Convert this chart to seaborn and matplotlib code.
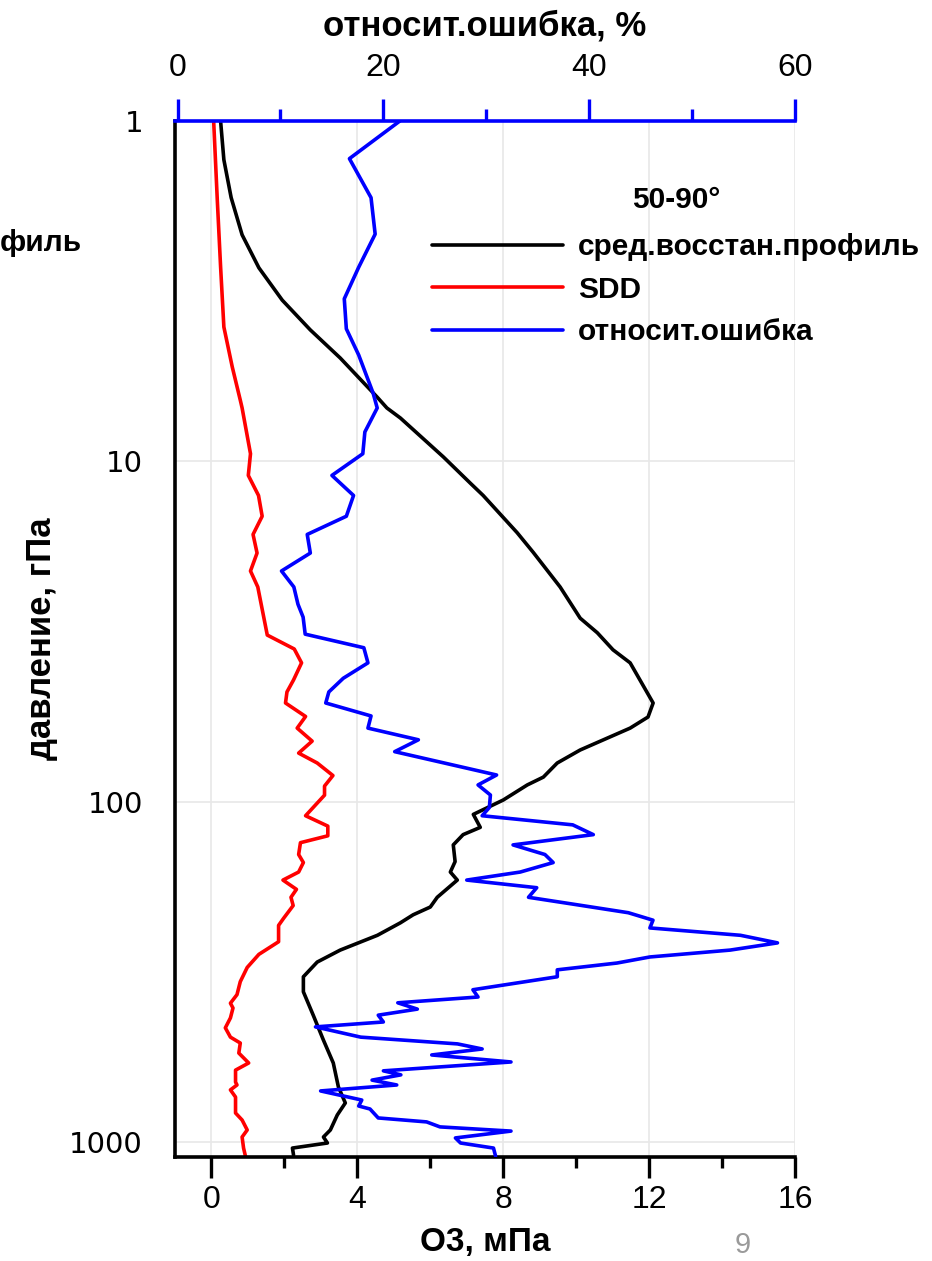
import matplotlib
matplotlib.use("Agg")
import matplotlib.pyplot as plt
import matplotlib.ticker as mticker
from matplotlib import font_manager
import seaborn as sns

# mean retrieved profile, mPa vs hPa
p_mean = [1.0, 1.30, 1.68, 2.16, 2.70, 3.36, 4.11, 4.97, 6.47, 6.97, 7.46, 9.71, 11.6, 12.6,
          16.2, 18.5, 23.4, 28.9, 31.9, 35.8, 39.1, 51.3, 56.4, 60.8, 70.5, 77.0, 84.7, 89.3,
          98.9, 109, 119, 125, 134, 150, 161, 170, 191, 204, 215, 227, 247, 273, 296, 327,
          362, 424, 502, 586, 689, 768, 833, 922, 967, 1007, 1042, 1092]
o3_mean = [0.25, 0.34, 0.54, 0.84, 1.30, 1.94, 2.71, 3.53, 4.54, 4.81, 5.18, 6.36, 7.10, 7.45,
           8.38, 8.82, 9.56, 10.11, 10.58, 11.01, 11.48, 12.11, 11.97, 11.48, 10.11, 9.48, 9.10, 8.66,
           8.00, 7.18, 7.37, 6.90, 6.63, 6.68, 6.55, 6.74, 6.19, 6.00, 5.53, 5.18, 4.55, 3.53, 2.90, 2.52,
           2.52, 2.79, 3.07, 3.34, 3.48, 3.67, 3.45, 3.26, 3.07, 3.18, 2.22, 2.25]

# SDD, mPa
p_sdd = [1.0, 1.71, 2.68, 4.03, 5.28, 6.61, 6.97, 9.5, 11.0, 12.6, 14.5, 16.4, 18.6, 21.0, 23.4,
         32.4, 35.6, 39.1, 43.9, 47.6, 51.3, 56.2, 60.8, 66.4, 72.0, 77.0, 83.8, 90.0, 95.7, 110,
         118, 126, 132, 143, 151, 161, 170, 181, 191, 202, 220, 231, 258, 281, 307, 338, 369, 391,
         404, 432, 462, 492, 512, 548, 586, 615, 667, 680, 703, 738, 822, 862, 922, 967, 1042, 1099]
sdd = [0.06, 0.16, 0.25, 0.34, 0.57, 0.79, 0.84, 1.07, 1.01, 1.29, 1.39, 1.14, 1.25, 1.07, 1.27,
       1.53, 2.27, 2.47, 2.25, 2.07, 2.03, 2.58, 2.35, 2.76, 2.39, 2.90, 3.33, 3.10, 3.10, 2.58,
       3.19, 3.19, 2.44, 2.39, 2.52, 2.39, 1.96, 2.33, 2.18, 2.24, 1.98, 1.84, 1.84, 1.30, 0.98,
       0.79, 0.70, 0.52, 0.59, 0.52, 0.38, 0.52, 0.79, 0.75, 1.02, 0.66, 0.66, 0.70, 0.52, 0.66,
       0.66, 0.84, 0.98, 0.84, 0.88, 0.93]

# relative error, %
p_err = [1.0, 1.29, 1.68, 2.15, 2.69, 3.33, 4.08, 4.87, 6.30, 6.97, 8.2, 9.5, 11.0, 12.6, 14.5,
         16.4, 18.6, 21.0, 23.4, 26.3, 28.7, 32.2, 35.3, 39.1, 43.4, 47.6, 51.3, 56.0, 60.8, 65.8,
         71.3, 83.5, 89.3, 95.6, 104, 110, 117, 125, 134, 143, 151, 161, 170, 179, 191, 200, 212,
         223, 235, 247, 260, 273, 286, 298, 312, 327, 357, 375, 390, 407, 424, 444, 459, 492, 515,
         533, 555, 582, 618, 635, 658, 680, 708, 753, 784, 800, 850, 873, 903, 929, 973, 1007,
         1042, 1100]
err = [21.6, 16.7, 18.8, 19.2, 17.6, 16.2, 16.4, 17.6, 19.0, 19.4, 18.2, 18.0, 15.0, 17.1, 16.4,
       12.6, 12.9, 10.1, 11.3, 11.7, 12.2, 12.4, 18.1, 18.5, 16.1, 14.7, 14.4, 18.8, 18.5, 23.4,
       21.1, 31.0, 29.2, 30.4, 30.3, 29.6, 38.4, 40.4, 32.6, 35.7, 36.5, 33.3, 28.1, 34.9, 34.1,
       38.4, 43.8, 46.2, 45.9, 54.7, 58.3, 53.7, 45.9, 42.7, 36.9, 36.9, 28.7, 29.2, 21.4, 23.3,
       19.5, 20.0, 13.4, 17.8, 27.2, 29.6, 24.7, 32.4, 20.0, 21.7, 18.9, 21.3, 13.9, 17.9, 17.6,
       18.7, 19.5, 24.2, 25.5, 32.4, 27.0, 27.5, 30.7, 30.9]

x_ticks = [0, 4, 8, 12, 16]
err_ticks = [0, 20, 40, 60]
y_ticks = [1, 10, 100, 1000]

sns.set_style("white")
plt.rcParams["font.family"] = ["Liberation Sans", "DejaVu Sans"]
plt.rcParams["text.color"] = "black"
plt.rcParams["axes.labelcolor"] = "black"
plt.rcParams["xtick.labelcolor"] = "black"
plt.rcParams["ytick.labelcolor"] = "black"

names = {f.name for f in font_manager.fontManager.ttflist}
narrow = "Liberation Sans Narrow" if "Liberation Sans Narrow" in names else "Liberation Sans"

W, H = 932, 1261
LW = 2.6
fig = plt.figure(figsize=(W / 100, H / 100), dpi=100)
ax = fig.add_axes([175 / W, 1 - 1157 / H, 620 / W, (1157 - 121) / H])
ax.set_yscale("log")

sns.lineplot(x=o3_mean, y=p_mean, sort=False, estimator=None, color="black", linewidth=LW, ax=ax,
             label="сред.восстан.профиль")
sns.lineplot(x=sdd, y=p_sdd, sort=False, estimator=None, color="red", linewidth=LW, ax=ax,
             label="SDD")

ax.set_xlim(-1, 16)
ax.set_ylim(1107, 1)
ax.set_xticks(x_ticks)
ax.xaxis.set_minor_locator(mticker.MultipleLocator(2))
ax.yaxis.set_major_locator(mticker.FixedLocator(y_ticks))
ax.yaxis.set_minor_locator(mticker.LogLocator(base=10, subs=range(2, 10)))
ax.yaxis.set_major_formatter(mticker.FuncFormatter(lambda v, _: f"{v:g}"))
ax.yaxis.set_minor_formatter(mticker.NullFormatter())
ax.grid(True, which="major", color="#e8e8e8", lw=1.2)

for s in ["top", "right"]:
    ax.spines[s].set_visible(False)
for s in ["left", "bottom"]:
    ax.spines[s].set_linewidth(2.6)
    ax.spines[s].set_color("black")

ax.tick_params(axis="x", which="major", length=15, width=2.4, labelsize=23, pad=5, color="black")
ax.tick_params(axis="x", which="minor", length=8, width=2.4, color="black")
ax.tick_params(axis="y", which="major", length=15, width=2.4, labelsize=21, pad=8, color="black")
ax.tick_params(axis="y", which="minor", length=8, width=2.4, color="black")
for lab in ax.get_xticklabels():
    lab.set_family([narrow, "DejaVu Sans"])
for lab in ax.get_yticklabels():
    lab.set_family(["DejaVu Sans"])

ax.set_xlabel("O3, мПа", fontsize=24, fontweight="bold", family=[narrow, "DejaVu Sans"], labelpad=9)
ax.set_ylabel("давление, гПа", fontsize=25, fontweight="bold", family=[narrow, "DejaVu Sans"], labelpad=8)

ax2 = ax.twiny()
sns.lineplot(x=err, y=p_err, sort=False, estimator=None, color="blue", linewidth=LW, ax=ax2,
             label="относит.ошибка")
ax2.set_xlim(-0.25, 60)
ax2.set_xticks(err_ticks)
ax2.xaxis.set_minor_locator(mticker.MultipleLocator(10))
for s in ["left", "right", "bottom"]:
    ax2.spines[s].set_visible(False)
ax2.spines["top"].set_color("blue")
ax2.spines["top"].set_linewidth(2.6)
ax2.tick_params(axis="x", which="major", length=16, width=2.4, color="blue", labelsize=23, pad=11)
ax2.tick_params(axis="x", which="minor", length=9, width=2.4, color="blue")
for lab in ax2.get_xticklabels():
    lab.set_family([narrow, "DejaVu Sans"])
ax2.set_xlabel("относит.ошибка, %", fontsize=25, fontweight="bold", family=[narrow, "DejaVu Sans"], labelpad=13)

h1, l1 = ax.get_legend_handles_labels()
h2, l2 = ax2.get_legend_handles_labels()
ax.get_legend().remove()
ax2.get_legend().remove()
leg = ax2.legend(h1 + h2, l1 + l2, title="50-90°", loc="upper left",
                 bbox_to_anchor=(432 / W, 1 - 186 / H), bbox_transform=fig.transFigure,
                 frameon=False, borderpad=0, borderaxespad=0, handlelength=4.4, handletextpad=0.5,
                 labelspacing=0.48, prop={"weight": "bold", "size": 21.5})
leg.get_title().set_fontweight("bold")
leg.get_title().set_fontsize(21.5)
leg.get_title().set_color("black")
for t in leg.get_texts():
    t.set_color("black")
leg._legend_box.sep = 14

fig.text(0, 1 - 243 / H, "филь", fontsize=21.5, fontweight="bold", ha="left", va="center")
fig.text(743 / W, 1 - 1245 / H, "9", fontsize=21, color="#9a9a9a", ha="center", va="center")

fig.savefig("out.png", dpi=100)
